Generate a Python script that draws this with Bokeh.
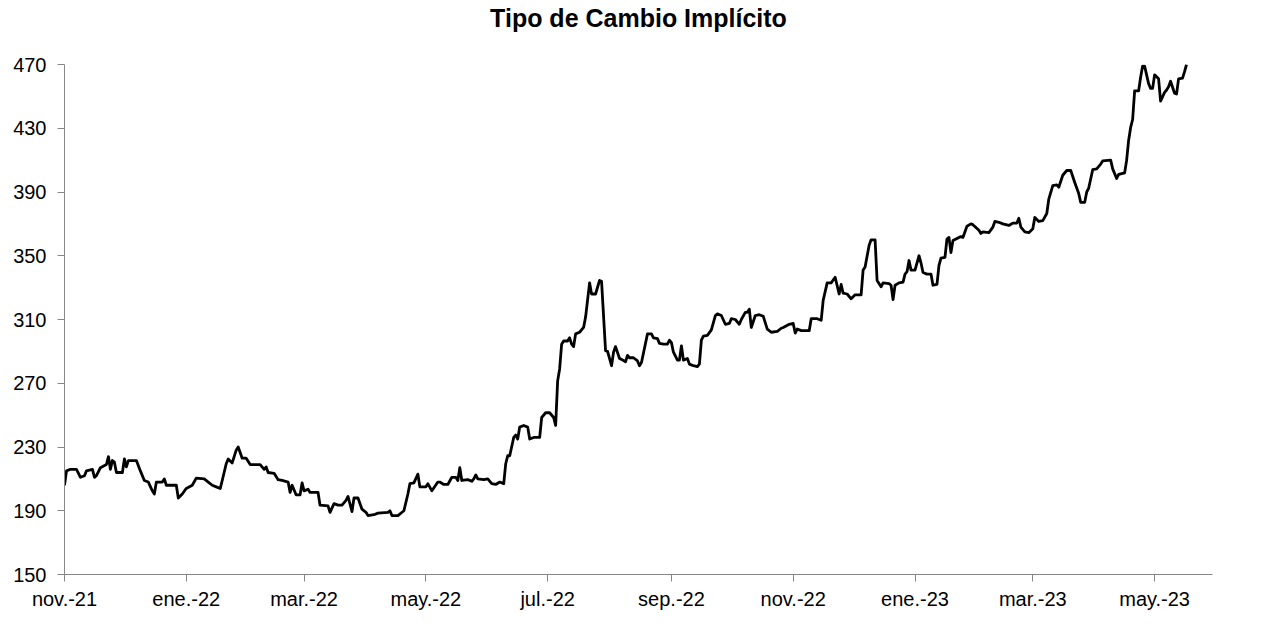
import calendar
from datetime import datetime

from bokeh.plotting import figure
from bokeh.models import ColumnDataSource, Range1d, FixedTicker, Title
from bokeh.embed import file_html
from bokeh.resources import INLINE

title_text = "Tipo de Cambio Implícito"

dates = [
    "2021-11-01", "2021-11-02", "2021-11-04", "2021-11-07", "2021-11-09", "2021-11-11", "2021-11-12",
    "2021-11-15", "2021-11-16", "2021-11-17", "2021-11-19", "2021-11-22", "2021-11-23", "2021-11-24",
    "2021-11-25", "2021-11-26", "2021-11-27", "2021-11-30", "2021-12-01", "2021-12-02", "2021-12-03",
    "2021-12-07", "2021-12-09", "2021-12-11", "2021-12-13", "2021-12-15", "2021-12-16", "2021-12-17",
    "2021-12-20", "2021-12-21", "2021-12-22", "2021-12-27", "2021-12-28", "2021-12-30", "2022-01-01",
    "2022-01-04", "2022-01-06", "2022-01-10", "2022-01-12", "2022-01-14", "2022-01-16", "2022-01-18",
    "2022-01-19", "2022-01-21", "2022-01-22", "2022-01-24", "2022-01-26", "2022-01-27", "2022-01-29",
    "2022-01-31", "2022-02-02", "2022-02-07", "2022-02-09", "2022-02-10", "2022-02-11", "2022-02-14",
    "2022-02-16", "2022-02-18", "2022-02-21", "2022-02-22", "2022-02-23", "2022-02-25", "2022-02-27",
    "2022-02-28", "2022-03-01", "2022-03-03", "2022-03-04", "2022-03-08", "2022-03-09", "2022-03-13",
    "2022-03-14", "2022-03-16", "2022-03-18", "2022-03-20", "2022-03-22", "2022-03-23", "2022-03-25",
    "2022-03-26", "2022-03-28", "2022-03-30", "2022-04-01", "2022-04-02", "2022-04-05", "2022-04-07",
    "2022-04-12", "2022-04-13", "2022-04-14", "2022-04-17", "2022-04-20", "2022-04-22", "2022-04-23",
    "2022-04-25", "2022-04-27", "2022-04-28", "2022-05-01", "2022-05-02", "2022-05-04", "2022-05-07",
    "2022-05-08", "2022-05-10", "2022-05-12", "2022-05-14", "2022-05-16", "2022-05-17", "2022-05-18",
    "2022-05-19", "2022-05-22", "2022-05-24", "2022-05-25", "2022-05-26", "2022-05-27", "2022-05-30",
    "2022-06-01", "2022-06-03", "2022-06-05", "2022-06-07", "2022-06-09", "2022-06-10", "2022-06-11",
    "2022-06-12", "2022-06-14", "2022-06-15", "2022-06-16", "2022-06-17", "2022-06-19", "2022-06-21",
    "2022-06-22", "2022-06-24", "2022-06-27", "2022-06-28", "2022-06-30", "2022-07-02", "2022-07-04",
    "2022-07-05", "2022-07-06", "2022-07-07", "2022-07-08", "2022-07-09", "2022-07-11", "2022-07-12",
    "2022-07-13", "2022-07-14", "2022-07-15", "2022-07-17", "2022-07-19", "2022-07-20", "2022-07-22",
    "2022-07-23", "2022-07-25", "2022-07-27", "2022-07-28", "2022-07-30", "2022-07-31", "2022-08-02",
    "2022-08-03", "2022-08-04", "2022-08-06", "2022-08-07", "2022-08-09", "2022-08-10", "2022-08-11",
    "2022-08-13", "2022-08-15", "2022-08-16", "2022-08-17", "2022-08-20", "2022-08-22", "2022-08-23",
    "2022-08-25", "2022-08-26", "2022-08-28", "2022-08-30", "2022-08-31", "2022-09-01", "2022-09-02",
    "2022-09-04", "2022-09-05", "2022-09-06", "2022-09-07", "2022-09-09", "2022-09-10", "2022-09-12",
    "2022-09-14", "2022-09-15", "2022-09-16", "2022-09-17", "2022-09-19", "2022-09-21", "2022-09-23",
    "2022-09-24", "2022-09-26", "2022-09-28", "2022-09-30", "2022-10-01", "2022-10-03", "2022-10-05",
    "2022-10-06", "2022-10-08", "2022-10-09", "2022-10-10", "2022-10-11", "2022-10-13", "2022-10-15",
    "2022-10-17", "2022-10-19", "2022-10-21", "2022-10-24", "2022-10-26", "2022-10-27", "2022-10-30",
    "2022-11-01", "2022-11-02", "2022-11-03", "2022-11-05", "2022-11-09", "2022-11-10", "2022-11-13",
    "2022-11-15", "2022-11-16", "2022-11-18", "2022-11-20", "2022-11-22", "2022-11-24", "2022-11-25",
    "2022-11-26", "2022-11-28", "2022-11-30", "2022-12-02", "2022-12-05", "2022-12-06", "2022-12-07",
    "2022-12-09", "2022-12-10", "2022-12-12", "2022-12-13", "2022-12-15", "2022-12-16", "2022-12-19",
    "2022-12-20", "2022-12-21", "2022-12-22", "2022-12-24", "2022-12-26", "2022-12-27", "2022-12-28",
    "2022-12-29", "2022-12-30", "2023-01-01", "2023-01-03", "2023-01-04", "2023-01-05", "2023-01-07",
    "2023-01-09", "2023-01-10", "2023-01-12", "2023-01-13", "2023-01-14", "2023-01-16", "2023-01-17",
    "2023-01-18", "2023-01-19", "2023-01-20", "2023-01-23", "2023-01-24", "2023-01-25", "2023-01-27",
    "2023-01-29", "2023-01-30", "2023-02-02", "2023-02-03", "2023-02-04", "2023-02-07", "2023-02-09",
    "2023-02-10", "2023-02-12", "2023-02-14", "2023-02-17", "2023-02-19", "2023-02-21", "2023-02-22",
    "2023-02-23", "2023-02-25", "2023-02-27", "2023-03-01", "2023-03-02", "2023-03-04", "2023-03-06",
    "2023-03-08", "2023-03-09", "2023-03-11", "2023-03-13", "2023-03-14", "2023-03-16", "2023-03-18",
    "2023-03-20", "2023-03-22", "2023-03-24", "2023-03-25", "2023-03-27", "2023-03-28", "2023-03-29",
    "2023-03-31", "2023-04-02", "2023-04-04", "2023-04-05", "2023-04-09", "2023-04-10", "2023-04-12",
    "2023-04-13", "2023-04-16", "2023-04-17", "2023-04-18", "2023-04-19", "2023-04-20", "2023-04-21",
    "2023-04-23", "2023-04-24", "2023-04-25", "2023-04-26", "2023-04-28", "2023-04-29", "2023-04-30",
    "2023-05-01", "2023-05-03", "2023-05-04", "2023-05-06", "2023-05-07", "2023-05-08", "2023-05-09",
    "2023-05-11", "2023-05-12", "2023-05-13", "2023-05-15", "2023-05-16", "2023-05-17",
]

values = [
    206, 215, 216, 216, 211, 212, 215,
    216, 211, 212, 217, 219, 224, 216,
    221.5, 220.5, 214, 214, 222.5, 217.5, 221.5,
    221.5, 215, 209, 208, 202.5, 200.5, 208,
    208, 210, 206, 206, 198, 200.5, 204,
    206, 210.5, 210, 208, 206, 205, 204,
    209, 219.5, 222.5, 220, 228, 230, 223,
    223, 219, 219, 216, 217.5, 214, 213.5,
    209.5, 209, 208, 201.5, 206, 200, 200,
    207.5, 202.5, 203.5, 201.5, 201.5, 193.5, 193,
    189, 194.5, 193.5, 193.5, 196.5, 199, 189.5,
    198, 198, 191, 189, 187, 187.5, 188.5,
    189, 190, 187, 187, 190, 200.5, 207,
    207.5, 213, 205, 205, 207, 202.5, 208,
    208, 206.5, 206.5, 211, 211, 209, 217,
    209, 209.5, 208.5, 210, 212.5, 210, 209.5,
    210, 207, 206.5, 208, 207, 219.5, 224.5,
    224.5, 236, 237.5, 235, 242.5, 243.5, 242.5,
    235, 236, 236, 248.5, 251.5, 251.5, 248.5,
    243.5, 271.5, 279, 294.5, 296.5, 296.5, 298.5,
    294.5, 293, 301, 302, 305, 311.5, 333,
    326, 326, 334.5, 334, 290.5, 290, 281,
    289.5, 293, 285.5, 285, 283.5, 287.5, 286,
    286, 284, 281, 283, 301, 301, 298.5,
    298, 295, 294.5, 294.5, 297, 295.5, 289.5,
    284.5, 284.5, 293.5, 284.5, 285.5, 282, 281,
    280.5, 282, 297, 299.5, 300, 303.5, 312.5,
    313.5, 312.5, 307, 307.5, 310.5, 310, 307,
    310, 314.5, 314.5, 316.5, 305, 312.5, 313,
    312, 304, 302, 302.5, 304.5, 305, 307,
    307.5, 301.5, 304, 303, 303, 310.5, 310.5,
    309.5, 322, 333, 333, 336.5, 326, 332,
    326.5, 326, 323, 325.5, 325.5, 341, 343,
    356.5, 360, 360, 334.5, 330.5, 333, 332.5,
    331.5, 322.5, 331.5, 333, 333.5, 338.5, 340,
    347, 341, 341, 350, 345.5, 339.5, 338.5,
    338.5, 331.5, 332, 344, 348.5, 349, 360.5,
    361.5, 352, 359.5, 361.5, 362, 361.5, 368.5,
    370, 369.5, 366, 364, 365, 364.5, 368,
    371.5, 371, 370, 369, 370.5, 370.5, 373.5,
    368, 365, 364.5, 367, 374, 371.5, 372,
    376.5, 385.5, 394, 394.5, 393, 400.5, 403.5,
    403.5, 396, 389, 383.5, 383.5, 390, 392.5,
    404, 404.5, 407.5, 409.5, 410, 404.5, 398.5,
    401, 402, 410, 422.5, 430.5, 435.5, 453.5,
    453.5, 462, 469, 469, 458, 455, 455,
    463.5, 461, 447, 452.5, 454, 456, 459.5,
    452, 451.5, 461, 461.5, 465.5, 470,
]

tick_dates = ["2021-11-01", "2022-01-01", "2022-03-01", "2022-05-01", "2022-07-01",
              "2022-09-01", "2022-11-01", "2023-01-01", "2023-03-01", "2023-05-01"]
tick_labels = ["nov.-21", "ene.-22", "mar.-22", "may.-22", "jul.-22",
               "sep.-22", "nov.-22", "ene.-23", "mar.-23", "may.-23"]
y_ticks = [150, 190, 230, 270, 310, 350, 390, 430, 470]
x_start, x_end = "2021-11-01", "2023-05-30"
y_min, y_max = 150, 470


def ms(s):
    return calendar.timegm(datetime.strptime(s, "%Y-%m-%d").timetuple()) * 1000


src = ColumnDataSource(dict(x=[ms(d) for d in dates], y=values))

p = figure(width=1246, height=619, x_axis_type="datetime", output_backend="svg",
           toolbar_location=None, title=None,
           min_border_left=64, min_border_right=34, min_border_top=0, min_border_bottom=45,
           x_range=Range1d(ms(x_start), ms(x_end)), y_range=Range1d(y_min, y_max))

# spacer between title and plot area (closest to the frame), then the real title
p.add_layout(Title(text=" ", text_font_size="1px", standoff=29), "above")
p.add_layout(Title(text=title_text, align="center", text_font="Liberation Sans",
                   text_font_size="25px", text_font_style="bold", text_color="black",
                   standoff=2), "above")

p.line("x", "y", source=src, line_color="black", line_width=2.8, line_join="round")

p.xgrid.visible = False
p.ygrid.visible = False
p.outline_line_color = None
p.background_fill_color = "white"
p.border_fill_color = "white"

for ax in (p.xaxis[0], p.yaxis[0]):
    ax.axis_line_color = "#868686"
    ax.axis_line_width = 1
    ax.major_tick_line_color = "#868686"
    ax.major_tick_out = 7
    ax.major_tick_in = 0
    ax.minor_tick_line_color = None
    ax.major_label_text_font = "Liberation Sans"
    ax.major_label_text_font_size = "20px"
    ax.major_label_text_color = "black"

p.yaxis.ticker = FixedTicker(ticks=y_ticks)
p.yaxis.major_label_standoff = 11

p.xaxis.ticker = FixedTicker(ticks=[ms(d) for d in tick_dates])
p.xaxis.major_label_overrides = {ms(d): lab for d, lab in zip(tick_dates, tick_labels)}
p.xaxis.major_label_standoff = 6

open("out.html", "w").write(file_html(p, INLINE))
